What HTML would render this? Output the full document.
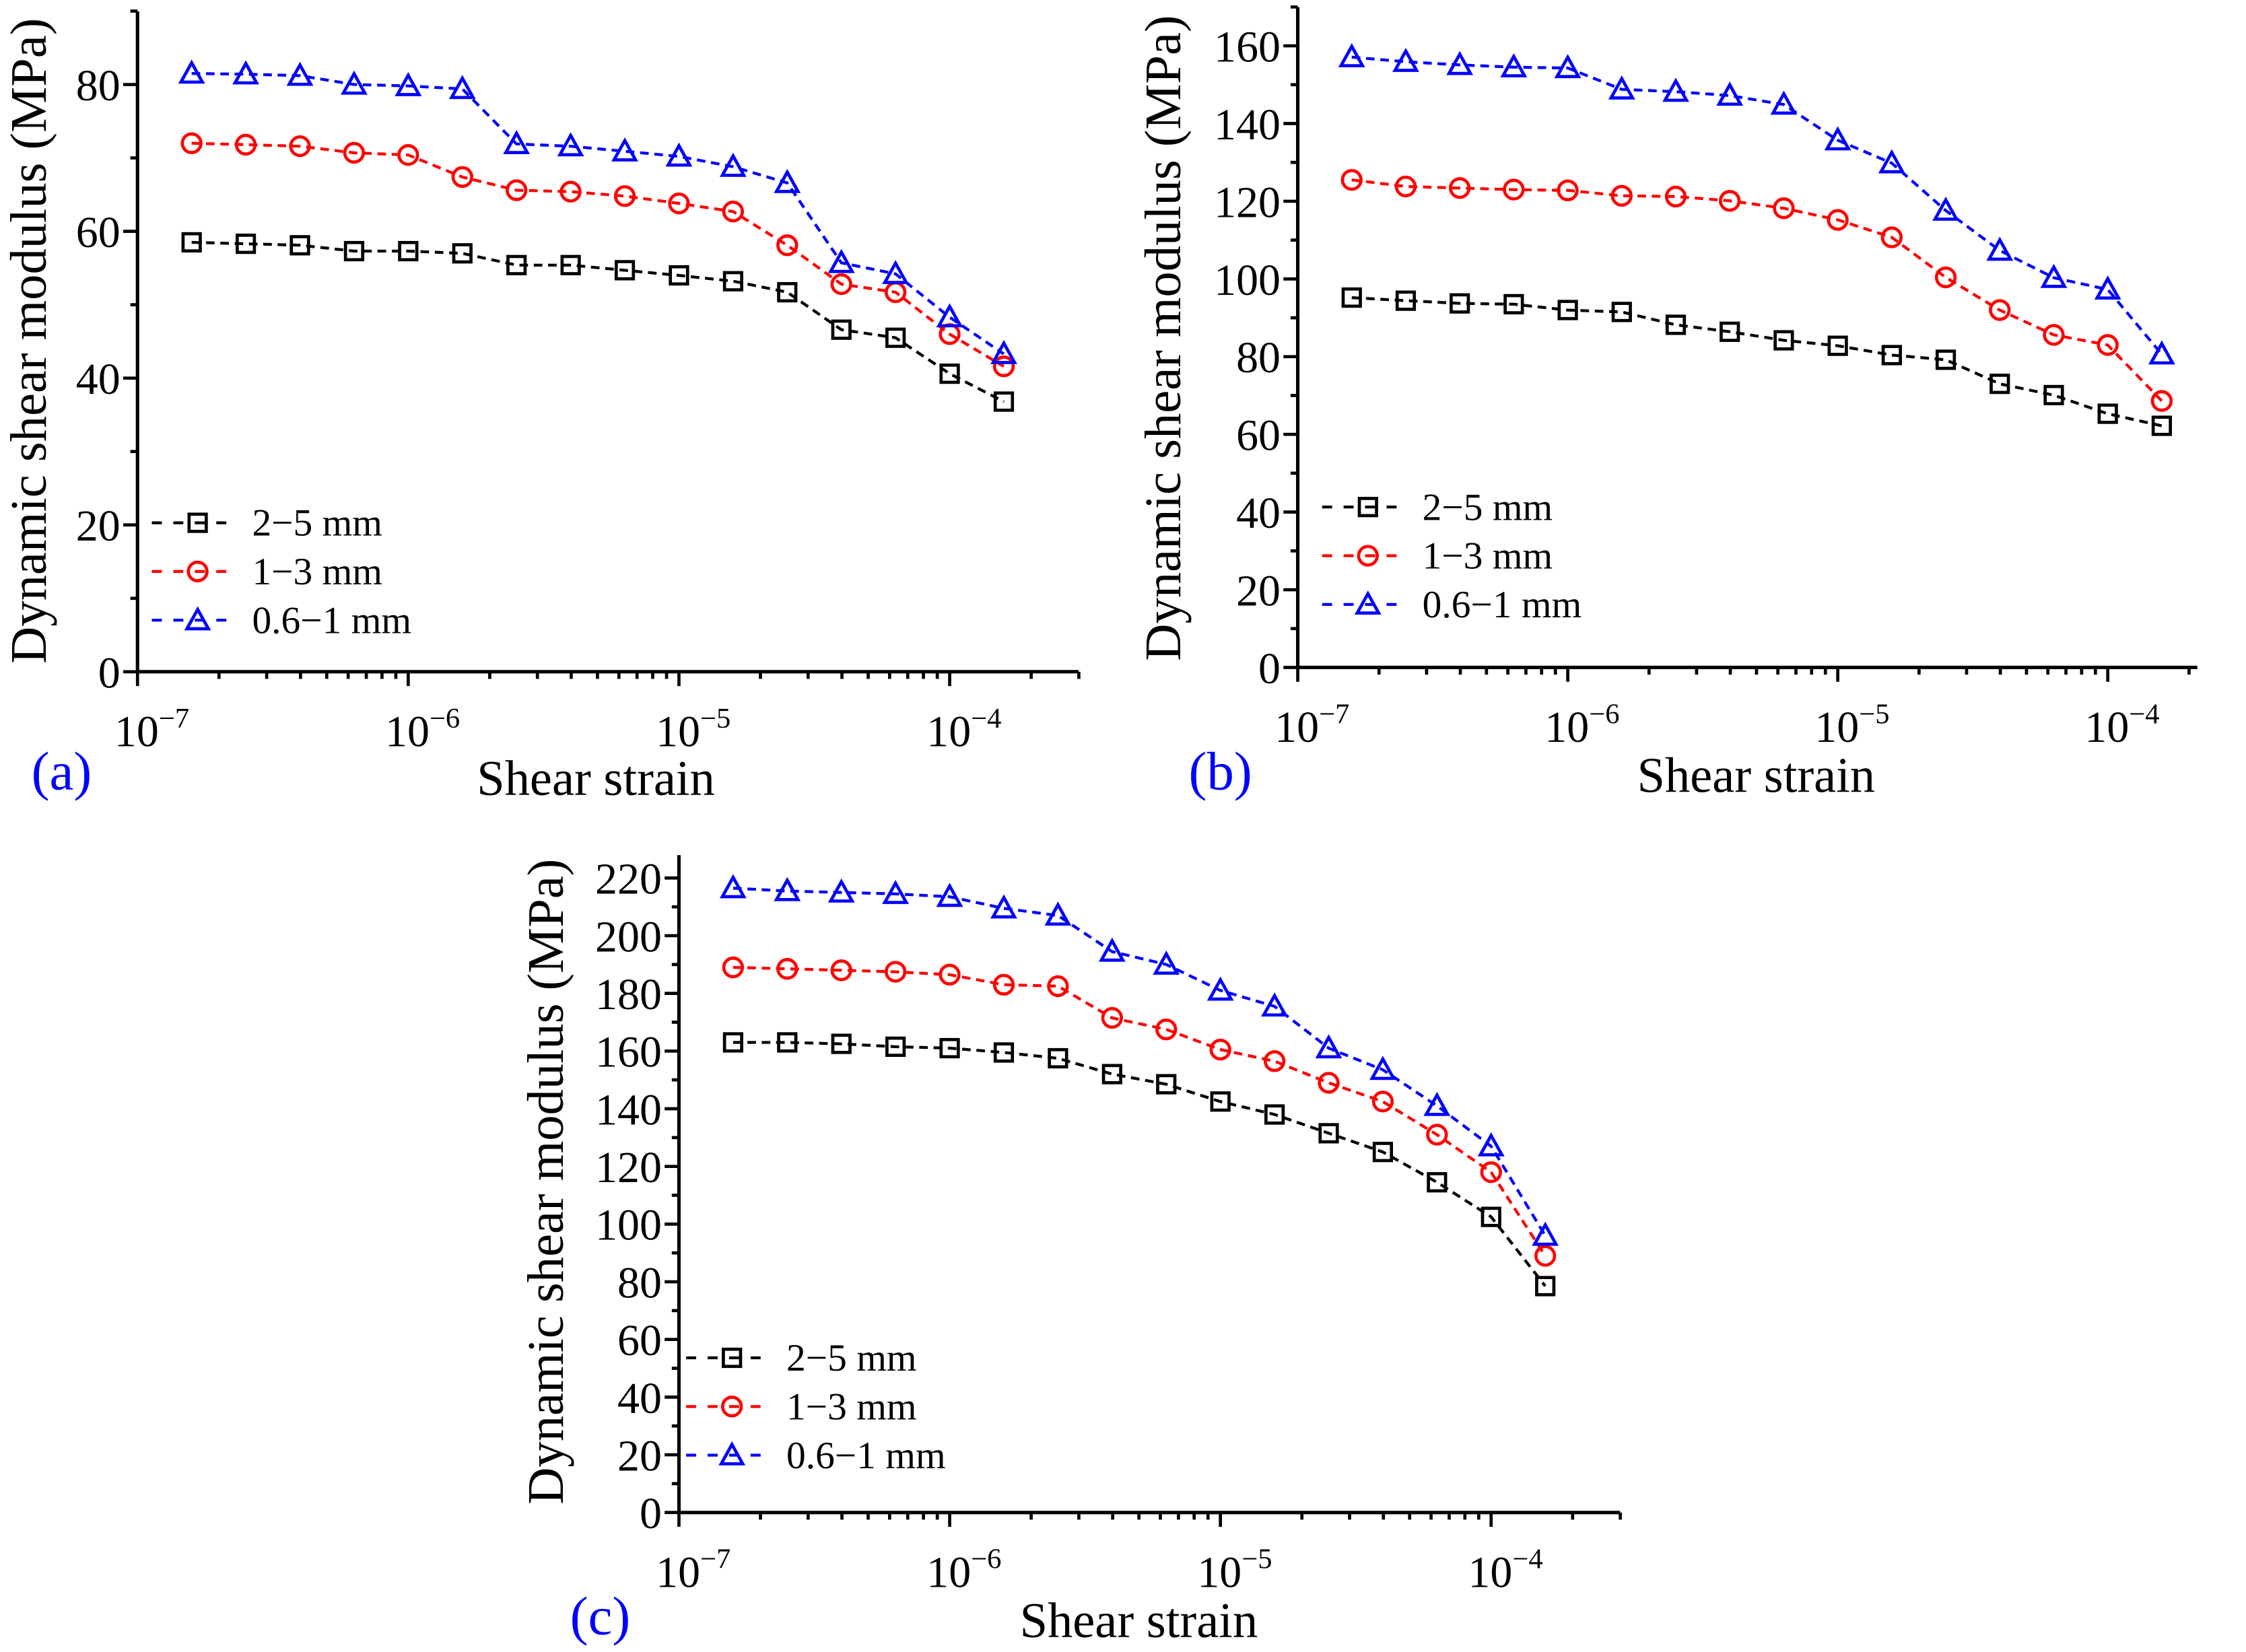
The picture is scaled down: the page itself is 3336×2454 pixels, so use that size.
<!DOCTYPE html>
<html><head><meta charset="utf-8"><style>
html,body{margin:0;padding:0;background:#fff;}
svg{display:block;}
text{font-family:"Liberation Serif",serif;}
</style></head>
<body>
<svg id="fig" width="3336" height="2454" viewBox="0 0 1568 1153.4" preserveAspectRatio="none" xmlns="http://www.w3.org/2000/svg"></svg>
<script>
// shared strain categories (log10 of shear strain)
const strainExp = [-6.8,-6.6,-6.4,-6.2,-6.0,-5.8,-5.6,-5.4,-5.2,-5.0,-4.8,-4.6,-4.4,-4.2,-4.0,-3.8];
const seriesNames = ["2\u22125 mm","1\u22123 mm","0.6\u22121 mm"];
// panel (a)
const aBlack = [58.5,58.3,58.1,57.3,57.3,57.0,55.4,55.4,54.7,54.0,53.2,51.7,46.6,45.5,40.6,36.8];
const aRed   = [72.0,71.8,71.6,70.7,70.4,67.4,65.6,65.4,64.8,63.8,62.7,58.1,52.8,51.7,46.0,41.6];
const aBlue  = [81.5,81.4,81.2,80.0,79.8,79.4,71.9,71.6,70.9,70.2,68.8,66.6,55.7,54.2,48.3,43.3];
const aYTicks = [0,20,40,60,80];
// panel (b)
const bBlack = [95.2,94.4,93.7,93.5,92.0,91.5,88.2,86.4,84.2,82.8,80.4,79.2,73.0,70.1,65.3,62.2];
const bRed   = [125.5,123.8,123.4,123.0,122.8,121.4,121.2,120.1,118.2,115.2,110.7,100.4,92.0,85.6,83.0,68.6];
const bBlue  = [157.1,155.9,155.1,154.5,154.3,148.8,148.2,147.2,144.9,135.7,129.8,117.6,107.3,100.3,97.3,80.6];
const bYTicks = [0,20,40,60,80,100,120,140,160];
// panel (c)
const cBlack = [163,163,162.5,161.5,161,159.5,157.5,152,148.5,142.5,138,131.5,125,114.5,102.5,78.5];
const cRed   = [189,188.5,188,187.5,186.5,183,182.5,171.5,167.5,160.5,156.5,149,142.5,131,118,89];
const cBlue  = [216.5,215.5,215,214.5,213.5,209.5,207,194.5,190,181,175.5,161,153.5,141,127,96];
const cYTicks = [0,20,40,60,80,100,120,140,160,180,200,220];
const xTickExp = [-7,-6,-5,-4];

const NS="http://www.w3.org/2000/svg";
const svg=document.getElementById('fig');
function mk(tag,attrs,parent){const e=document.createElementNS(NS,tag);for(const k in attrs)e.setAttribute(k,attrs[k]);(parent||svg).appendChild(e);return e;}
const colors=["#000","#f00","#00f"];

function marker(g,type,x,y,col){
  let m;
  if(type===0){m=mk('rect',{x:x-6,y:y-6,width:12,height:12,fill:'none',stroke:col,'stroke-width':2.2},g);}
  else if(type===1){m=mk('circle',{cx:x,cy:y,r:6.5,fill:'none',stroke:col,'stroke-width':2.2},g);}
  else {m=mk('path',{d:`M${x} ${y-7.5}L${x+7.5} ${y+6}L${x-7.5} ${y+6}Z`,fill:'none',stroke:col,'stroke-width':2.2},g);}
  
  
}

function panel(p){
  const g=mk('g',{});
  
  
  const X=e=>p.x0+(e+7)*p.dec;
  const Y=v=>p.y0-v*p.unit;
  const ax=mk('line',{x1:p.x0,y1:p.y0,x2:p.xEnd,y2:p.y0,stroke:'#000','stroke-width':2.4},g);
  
  const ay=mk('line',{x1:p.x0,y1:p.y0,x2:p.x0,y2:p.yTop,stroke:'#000','stroke-width':2.4},g);
  
  for(let d=-7;d<=-4;d++){
    for(let m=1;m<=9;m++){
      const x=X(d+Math.log10(m));
      if(x>p.xEnd+0.5)break;
      mk('line',{x1:x,y1:p.y0,x2:x,y2:p.y0+(m===1?10:5),stroke:'#000','stroke-width':2.2},g);
    }
  }
  xTickExp.forEach(e=>{
    const t=mk('text',{x:X(e)+10,y:p.y0+52,'font-size':31,'text-anchor':'middle'},g);
    
    t.appendChild(document.createTextNode('10'));
    const s=mk('tspan',{dy:-13,'font-size':20},t);s.textContent='\u2212'+String(-e);
  });
  const step=p.yTicks[1]-p.yTicks[0];
  for(let v=0;Y(v)>=p.yTop-0.5;v+=step/2){
    const major=Math.round(v/step*2)%2===0;
    mk('line',{x1:p.x0,y1:Y(v),x2:p.x0-(major?10:5),y2:Y(v),stroke:'#000','stroke-width':2.2},g);
  }
  p.yTicks.forEach(v=>{
    const t=mk('text',{x:p.x0-12,y:Y(v)+11,'font-size':31,'text-anchor':'end'},g);
    
    t.textContent=v;
  });
  const yt=mk('text',{x:0,y:0,'font-size':36,'text-anchor':'middle',transform:`translate(${p.ytx},${p.yty}) rotate(-90)`},g);
  
  yt.textContent='Dynamic shear modulus (MPa)';
  const xt=mk('text',{x:p.xtx,y:p.xty,'font-size':35,'text-anchor':'middle'},g);
  
  xt.textContent='Shear strain';
  const pl=mk('text',{x:p.plx,y:p.ply,'font-size':38,'text-anchor':'middle',fill:'#00f'},g);
  
  pl.textContent='('+p.id+')';
  p.series.forEach((vals,si)=>{
    const sg=mk('g',{},g);
    
    
    const pts=vals.map((v,i)=>X(strainExp[i]).toFixed(1)+','+Y(v).toFixed(1)).join(' ');
    mk('polyline',{points:pts,fill:'none',stroke:colors[si],'stroke-width':2,'stroke-dasharray':'6,4'},sg);
    vals.forEach((v,i)=>marker(sg,si,X(strainExp[i]),Y(v),colors[si]));
  });
  seriesNames.forEach((n,si)=>{
    const lg=mk('g',{},g);
    
    const ly=p.legY+si*34;
    mk('line',{x1:p.legX,y1:ly,x2:p.legX+60,y2:ly,stroke:colors[si],'stroke-width':2,'stroke-dasharray':'7,8'},lg);
    marker(lg,si,p.legX+32,ly,colors[si]);
    const t=mk('text',{x:p.legX+70,y:ly+9,'font-size':27},lg);
    t.textContent=n;
  });
}

panel({id:'a',x0:96,y0:469,xEnd:753,yTop:8,dec:189,unit:5.125,yTicks:aYTicks,series:[aBlack,aRed,aBlue],
  ytx:32,yty:238,xtx:416,xty:555,plx:43,ply:551,legX:106,legY:365});
panel({id:'b',x0:906,y0:466,xEnd:1534,yTop:5,dec:188.5,unit:2.7125,yTicks:bYTicks,series:[bBlack,bRed,bBlue],
  ytx:824,yty:236,xtx:1226,xty:553,plx:852,ply:551,legX:923,legY:354});
panel({id:'c',x0:474,y0:1056,xEnd:1131,yTop:597,dec:189,unit:2.0136,yTicks:cYTicks,series:[cBlack,cRed,cBlue],
  ytx:393,yty:825,xtx:795,xty:1143,plx:419,ply:1141,legX:479,legY:948});
</script>
</body></html>
